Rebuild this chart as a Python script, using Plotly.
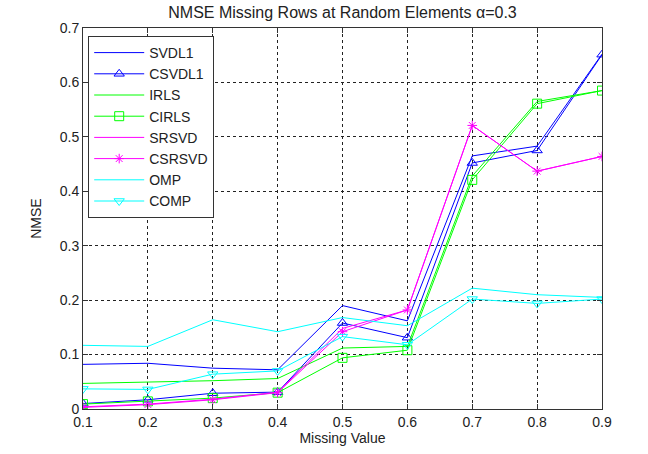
import plotly.graph_objects as go

# Missing-value ratios on the x axis
missing = [0.1, 0.2, 0.3, 0.4, 0.5, 0.6, 0.7, 0.8, 0.9]

# NMSE per method
svdl1 = [0.082, 0.084, 0.075, 0.072, 0.190, 0.162, 0.465, 0.483, 0.652]
csvdl1 = [0.010, 0.017, 0.029, 0.031, 0.158, 0.131, 0.452, 0.475, 0.651]
irls = [0.047, 0.049, 0.052, 0.056, 0.112, 0.115, 0.428, 0.565, 0.585]
cirls = [0.009, 0.014, 0.020, 0.030, 0.094, 0.108, 0.421, 0.561, 0.585]
srsvd = [0.004, 0.009, 0.018, 0.031, 0.148, 0.182, 0.521, 0.437, 0.464]
csrsvd = [0.003, 0.008, 0.017, 0.030, 0.142, 0.182, 0.521, 0.437, 0.464]
omp = [0.117, 0.115, 0.164, 0.142, 0.168, 0.153, 0.222, 0.210, 0.205]
comp = [0.037, 0.036, 0.064, 0.070, 0.133, 0.118, 0.202, 0.194, 0.202]

x_ticks = [0.1, 0.2, 0.3, 0.4, 0.5, 0.6, 0.7, 0.8, 0.9]
x_tick_text = ["0.1", "0.2", "0.3", "0.4", "0.5", "0.6", "0.7", "0.8", "0.9"]
y_ticks = [0, 0.1, 0.2, 0.3, 0.4, 0.5, 0.6, 0.7]
y_tick_text = ["0", "0.1", "0.2", "0.3", "0.4", "0.5", "0.6", "0.7"]

series = [
    ("SVDL1", svdl1, "#0000ff", None),
    ("CSVDL1", csvdl1, "#0000ff", "triangle-up-open"),
    ("IRLS", irls, "#00ff00", None),
    ("CIRLS", cirls, "#00ff00", "square-open"),
    ("SRSVD", srsvd, "#ff00ff", None),
    ("CSRSVD", csrsvd, "#ff00ff", "asterisk-open"),
    ("OMP", omp, "#00ffff", None),
    ("COMP", comp, "#00ffff", "triangle-down-open"),
]

FONT = "Arial, Liberation Sans, sans-serif"
INK = "#222222"

fig = go.Figure()
for name, vals, color, symbol in series:
    if symbol is None:
        fig.add_trace(go.Scatter(
            x=missing, y=vals, name=name, mode="lines",
            line=dict(color=color, width=1),
        ))
    else:
        fig.add_trace(go.Scatter(
            x=missing, y=vals, name=name, mode="lines+markers",
            line=dict(color=color, width=1),
            marker=dict(symbol=symbol, size=9 if symbol != "asterisk-open" else 8,
                        color=color, line=dict(color=color, width=1)),
        ))

axis_common = dict(
    showline=True, linecolor="#333333", linewidth=1, mirror="ticks",
    ticks="inside", ticklen=5, tickcolor="#333333",
    showgrid=True, gridcolor="#222222", gridwidth=1, griddash="3px,3px",
    zeroline=False,
    tickfont=dict(family=FONT, size=14, color=INK),
)

fig.update_layout(
    width=648, height=454,
    paper_bgcolor="white", plot_bgcolor="white",
    margin=dict(l=83, r=46, t=28, b=42),
    title=dict(
        text="NMSE Missing Rows at Random Elements \u03b1=0.3",
        x=0.5, xref="paper", xanchor="center",
        y=1 - 12 / 454, yanchor="middle",
        font=dict(family=FONT, size=16, color=INK),
    ),
    xaxis=dict(
        range=[0.1, 0.9], tickvals=x_ticks, ticktext=x_tick_text,
        title=dict(text="Missing Value", standoff=2,
                   font=dict(family=FONT, size=14, color=INK)),
        **axis_common,
    ),
    yaxis=dict(
        range=[0, 0.7], tickvals=y_ticks, ticktext=y_tick_text,
        title=dict(text="NMSE", standoff=14,
                   font=dict(family=FONT, size=14, color=INK)),
        **axis_common,
    ),
    legend=dict(
        x=0.01, y=0.979, xanchor="left", yanchor="top",
        bgcolor="white", bordercolor="#333333", borderwidth=1,
        font=dict(family=FONT, size=14, color=INK),
        itemwidth=50, tracegroupgap=0,
    ),
    showlegend=True,
)

fig.write_html("out.html")
